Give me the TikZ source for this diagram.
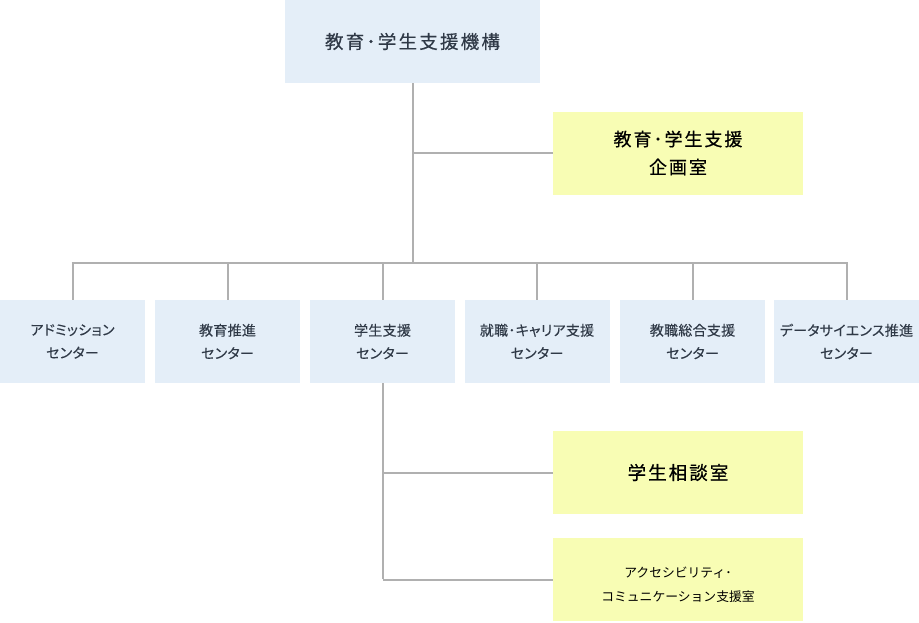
\documentclass[tikz,border=0pt]{standalone}
\usepackage{fontspec}
\setmainfont{Noto Sans CJK JP}
\newfontfamily\jpsp[LetterSpace=12,FakeBold=0.4]{Noto Sans CJK JP}
\newfontfamily\jpspy[LetterSpace=11,FakeBold=0.6]{Noto Sans CJK JP}
\newfontfamily\jpsmall[RawFeature=+palt,LetterSpace=2,FakeBold=0.15]{Noto Sans CJK JP}
\newfontfamily\jpsmally{Noto Sans CJK JP}
\definecolor{bluebox}{HTML}{E4EEF8}
\definecolor{yelbox}{HTML}{F8FDB4}
\definecolor{conncol}{HTML}{B0B0B0}
\definecolor{bluetext}{HTML}{2F3947}
\tikzset{
  bbox/.style={fill=bluebox, inner sep=0pt, align=center, text=bluetext},
  ybox/.style={fill=yelbox, inner sep=0pt, align=center, text=black, minimum width=250pt, minimum height=83pt},
  cbox/.style={bbox, minimum width=145pt, minimum height=83pt, font=\jpsmall\fontsize{14}{23}\selectfont},
  conn/.style={draw=conncol, line width=2pt}
}
\begin{document}
\begin{tikzpicture}[x=1pt,y=-1pt]
\useasboundingbox (0,0) rectangle (919,622);
% top
\node[bbox, minimum width=255pt, minimum height=83pt, font=\jpsp\fontsize{18.5}{24}\selectfont] (top) at (412.5,41.5) {教育･学生支援機構};
\node[ybox, font=\jpspy\fontsize{18}{28}\selectfont] (y1) at (678,153) {教育･学生支援\\企画室};
% centers
\node[cbox] (c1) at (72.5,341.5) {アドミッション\\センター};
\node[cbox] (c2) at (227.5,341.5) {教育推進\\センター};
\node[cbox] (c3) at (382.5,341.5) {学生支援\\センター};
\node[cbox] (c4) at (537,341.5) {就職･キャリア支援\\センター};
\node[cbox] (c5) at (692.5,341.5) {教職総合支援\\センター};
\node[cbox] (c6) at (846.5,341.5) {データサイエンス推進\\センター};
% lower yellow
\node[ybox, font=\jpspy\fontsize{18.5}{24}\selectfont] (y2) at (678,472.5) {学生相談室};
\node[ybox] (y3) at (678,579.5) {};
\node[inner sep=0pt, align=center, font=\jpsmally\fontsize{12.8}{24}\selectfont] (y3t) at ([yshift=-5pt]y3.center) {アクセシビリティ･\\コミュニケーション支援室};
% connectors
\coordinate (busL) at (72.5,263);
\coordinate (busR) at (846.5,263);
\draw[conn] (top.south) -- (top.south |- busL);
\draw[conn] (top.south |- y1.west) -- (y1.west);
\draw[conn] ([xshift=-1pt]busL) -- ([xshift=1pt]busR);
\foreach \c in {c1,c2,c3,c4,c5,c6}{
  \draw[conn] (\c.north |- busL) -- (\c.north);
}
\draw[conn] (c3.south) -- ([yshift=1pt]c3.south |- y3.west) ;
\draw[conn] (c3.south |- y3.west) -- (y3.west);
\draw[conn] (c3.south |- y2.west) -- (y2.west);
\end{tikzpicture}
\end{document}
